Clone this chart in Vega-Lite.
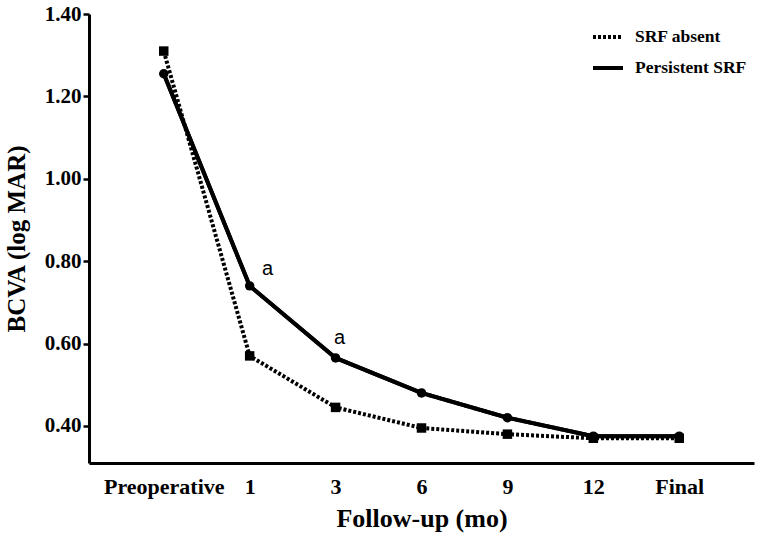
{
  "$schema": "https://vega.github.io/schema/vega-lite/v6.json",
  "width": 665,
  "height": 449,
  "autosize": {"type": "none"},
  "padding": {"left": 89, "top": 14, "right": 8, "bottom": 76},
  "background": "white",
  "config": {"view": {"stroke": null}, "font": "Liberation Serif"},
  "datasets": {
    "main": [
      {"visit": "Preoperative", "series": "SRF absent", "bcva": 1.31},
      {"visit": "1", "series": "SRF absent", "bcva": 0.57},
      {"visit": "3", "series": "SRF absent", "bcva": 0.445},
      {"visit": "6", "series": "SRF absent", "bcva": 0.395},
      {"visit": "9", "series": "SRF absent", "bcva": 0.38},
      {"visit": "12", "series": "SRF absent", "bcva": 0.37},
      {"visit": "Final", "series": "SRF absent", "bcva": 0.37},
      {"visit": "Preoperative", "series": "Persistent SRF", "bcva": 1.255},
      {"visit": "1", "series": "Persistent SRF", "bcva": 0.74},
      {"visit": "3", "series": "Persistent SRF", "bcva": 0.565},
      {"visit": "6", "series": "Persistent SRF", "bcva": 0.48},
      {"visit": "9", "series": "Persistent SRF", "bcva": 0.42},
      {"visit": "12", "series": "Persistent SRF", "bcva": 0.375},
      {"visit": "Final", "series": "Persistent SRF", "bcva": 0.375}
    ],
    "notes": [
      {"visit": "1", "bcva": 0.781, "label": "a"},
      {"visit": "3", "bcva": 0.614, "label": "a"}
    ]
  },
  "encoding": {
    "x": {
      "field": "visit",
      "type": "ordinal",
      "sort": ["Preoperative", "1", "3", "6", "9", "12", "Final"],
      "scale": {"type": "point", "padding": 0.87},
      "axis": {
        "title": "Follow-up (mo)",
        "titleFont": "Liberation Serif",
        "titleFontSize": 26,
        "titleFontWeight": "bold",
        "titleColor": "black",
        "titlePadding": 8,
        "labelFont": "Liberation Serif",
        "labelFontSize": 22,
        "labelFontWeight": "bold",
        "labelColor": "black",
        "labelAngle": 0,
        "labelPadding": 13,
        "ticks": false,
        "grid": false,
        "domainColor": "black",
        "domainWidth": 3
      }
    },
    "y": {
      "field": "bcva",
      "type": "quantitative",
      "scale": {"domain": [0.31, 1.4], "nice": false, "zero": false},
      "axis": {
        "title": "BCVA (log MAR)",
        "titleFont": "Liberation Serif",
        "titleFontSize": 25,
        "titleFontWeight": "bold",
        "titleColor": "black",
        "titlePadding": 15,
        "values": [0.4, 0.6, 0.8, 1.0, 1.2, 1.4],
        "format": ".2f",
        "labelFont": "Liberation Serif",
        "labelFontSize": 21,
        "labelFontWeight": "bold",
        "labelColor": "black",
        "labelPadding": 2,
        "tickSize": 6,
        "tickWidth": 2.5,
        "tickColor": "black",
        "grid": false,
        "domainColor": "black",
        "domainWidth": 3
      }
    }
  },
  "layer": [
    {
      "data": {"name": "main"},
      "transform": [{"filter": "datum.series == 'Persistent SRF'"}],
      "mark": {"type": "line", "color": "black", "strokeWidth": 4},
      "encoding": {}
    },
    {
      "data": {"name": "main"},
      "mark": {"type": "line", "color": "black", "strokeWidth": 4, "strokeCap": "butt"},
      "encoding": {
        "strokeDash": {
          "field": "series",
          "type": "nominal",
          "scale": {"domain": ["SRF absent", "Persistent SRF"], "range": [[3, 2], [1, 0]]},
          "legend": {
            "title": null,
            "orient": "none",
            "legendX": 502,
            "legendY": 6,
            "symbolType": "stroke",
            "symbolSize": 900,
            "symbolStrokeWidth": 4,
            "symbolStrokeColor": "black",
            "labelFont": "Liberation Serif",
            "labelFontSize": 17.5,
            "labelFontWeight": "bold",
            "labelColor": "black",
            "labelOffset": 10,
            "rowPadding": 5
          }
        }
      }
    },
    {
      "data": {"name": "main"},
      "transform": [{"filter": "datum.series == 'SRF absent'"}],
      "mark": {"type": "point", "shape": "square", "filled": true, "color": "black", "opacity": 1, "size": 90},
      "encoding": {}
    },
    {
      "data": {"name": "main"},
      "transform": [{"filter": "datum.series == 'Persistent SRF'"}],
      "mark": {"type": "point", "shape": "circle", "filled": true, "color": "black", "opacity": 1, "size": 90},
      "encoding": {}
    },
    {
      "data": {"name": "notes"},
      "transform": [{"filter": "datum.visit == '1'"}],
      "mark": {"type": "text", "font": "Liberation Sans", "fontSize": 20, "color": "black", "dx": 18, "baseline": "middle"},
      "encoding": {"text": {"field": "label"}}
    },
    {
      "data": {"name": "notes"},
      "transform": [{"filter": "datum.visit == '3'"}],
      "mark": {"type": "text", "font": "Liberation Sans", "fontSize": 20, "color": "black", "dx": 4, "baseline": "middle"},
      "encoding": {"text": {"field": "label"}}
    }
  ]
}
